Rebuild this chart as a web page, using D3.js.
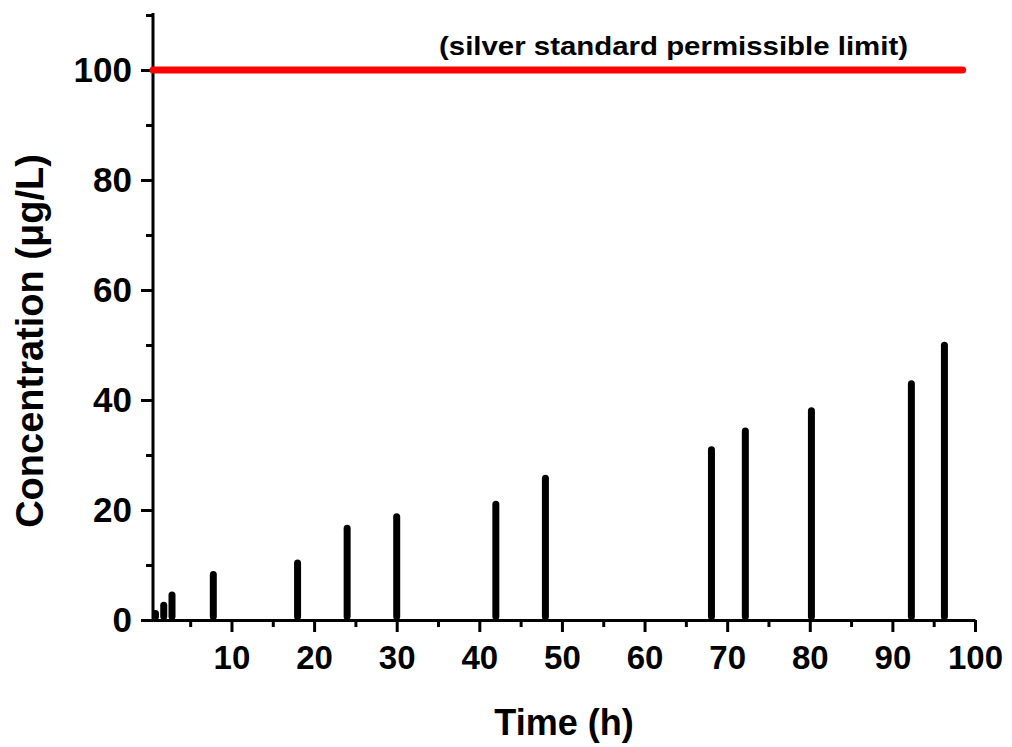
<!DOCTYPE html>
<html>
<head>
<meta charset="utf-8">
<script src="https://cdn.jsdelivr.net/npm/d3@7"></script>
<style>
  body { margin: 0; background: #fff; }
  text { font-family: "Liberation Sans", Arial, sans-serif; font-weight: bold; fill: #000; }
</style>
</head>
<body>
<div id="chart"></div>
<script>
// Data
const times = [0.8, 1.8, 2.8, 7.8, 18, 24, 30, 42, 48, 68.1, 72.2, 80.2, 92.3, 96.3];
const concentrations = [1.8, 3.3, 5.2, 8.9, 11.0, 17.3, 19.4, 21.7, 26.4, 31.6, 35.0, 38.7, 43.6, 50.6];
const limitValue = 100;
const limitRange = [0.5, 98.5];
const xTicks = [10, 20, 30, 40, 50, 60, 70, 80, 90, 100];
const xMinorTicks = [5, 15, 25, 35, 45, 55, 65, 75, 85, 95];
const yTicks = [0, 20, 40, 60, 80, 100];
const yMinorTicks = [10, 30, 50, 70, 90, 110];

const width = 1012, height = 747;

const svg = d3.select("#chart")
  .append("svg")
  .attr("width", width)
  .attr("height", height);

// Scales
const x = d3.scaleLinear().domain([0.5, 100]).range([153, 975]);
const y = d3.scaleLinear().domain([0, 110]).range([620, 15]);

// Minor ticks first, then major axes on top
svg.append("g")
  .attr("transform", `translate(0,${y(0)})`)
  .call(d3.axisBottom(x).tickValues(xMinorTicks).tickSize(7).tickFormat(""))
  .call(g => g.select(".domain").remove())
  .selectAll("line").attr("stroke-width", 3);

svg.append("g")
  .attr("transform", `translate(${x(0.5)},0)`)
  .call(d3.axisLeft(y).tickValues(yMinorTicks).tickSize(7).tickFormat(""))
  .call(g => g.select(".domain").remove())
  .selectAll("line").attr("stroke-width", 3);

// X axis
const xAxis = svg.append("g")
  .attr("transform", `translate(0,${y(0)})`)
  .call(d3.axisBottom(x).tickValues(xTicks).tickSize(12).tickSizeOuter(0).tickPadding(14));
xAxis.select(".domain").attr("stroke-width", 3);
xAxis.selectAll("line").attr("stroke-width", 3);
xAxis.selectAll("text").style("font-size", "33px");

// Y axis
const yAxis = svg.append("g")
  .attr("transform", `translate(${x(0.5)},0)`)
  .call(d3.axisLeft(y).tickValues(yTicks).tickSize(12).tickSizeOuter(0).tickPadding(9));
yAxis.select(".domain").attr("stroke-width", 3).attr("d", `M0,${y(110) - 2}V${y(0) + 1.5}`);
yAxis.selectAll("line").attr("stroke-width", 3);
yAxis.selectAll("text").style("font-size", "35px");

// Bars drawn as thick drop lines with rounded tops
const barW = 7;
svg.selectAll(".bar")
  .data(times.map((t, i) => ({ t, v: concentrations[i] })))
  .enter()
  .append("line")
  .attr("class", "bar")
  .attr("x1", d => x(d.t))
  .attr("x2", d => x(d.t))
  .attr("y1", y(0) - barW / 2)
  .attr("y2", d => y(d.v) + barW / 2)
  .attr("stroke", "#000")
  .attr("stroke-width", barW)
  .attr("stroke-linecap", "round");

// Permissible limit line
svg.append("line")
  .attr("x1", x(limitRange[0]))
  .attr("x2", x(limitRange[1]))
  .attr("y1", y(limitValue))
  .attr("y2", y(limitValue))
  .attr("stroke", "#ff0000")
  .attr("stroke-width", 7)
  .attr("stroke-linecap", "round");

svg.append("text")
  .attr("x", 439)
  .attr("y", 55)
  .attr("textLength", 469)
  .attr("lengthAdjust", "spacingAndGlyphs")
  .style("font-size", "26px")
  .text("(silver standard permissible limit)");

// Axis titles
svg.append("text")
  .attr("x", (x(0.5) + x(100)) / 2)
  .attr("y", 735)
  .attr("text-anchor", "middle")
  .style("font-size", "36px")
  .text("Time (h)");

svg.append("text")
  .attr("transform", "translate(43,341) rotate(-90)")
  .attr("text-anchor", "middle")
  .style("font-size", "38px")
  .text("Concentration (μg/L)");
</script>
</body>
</html>
